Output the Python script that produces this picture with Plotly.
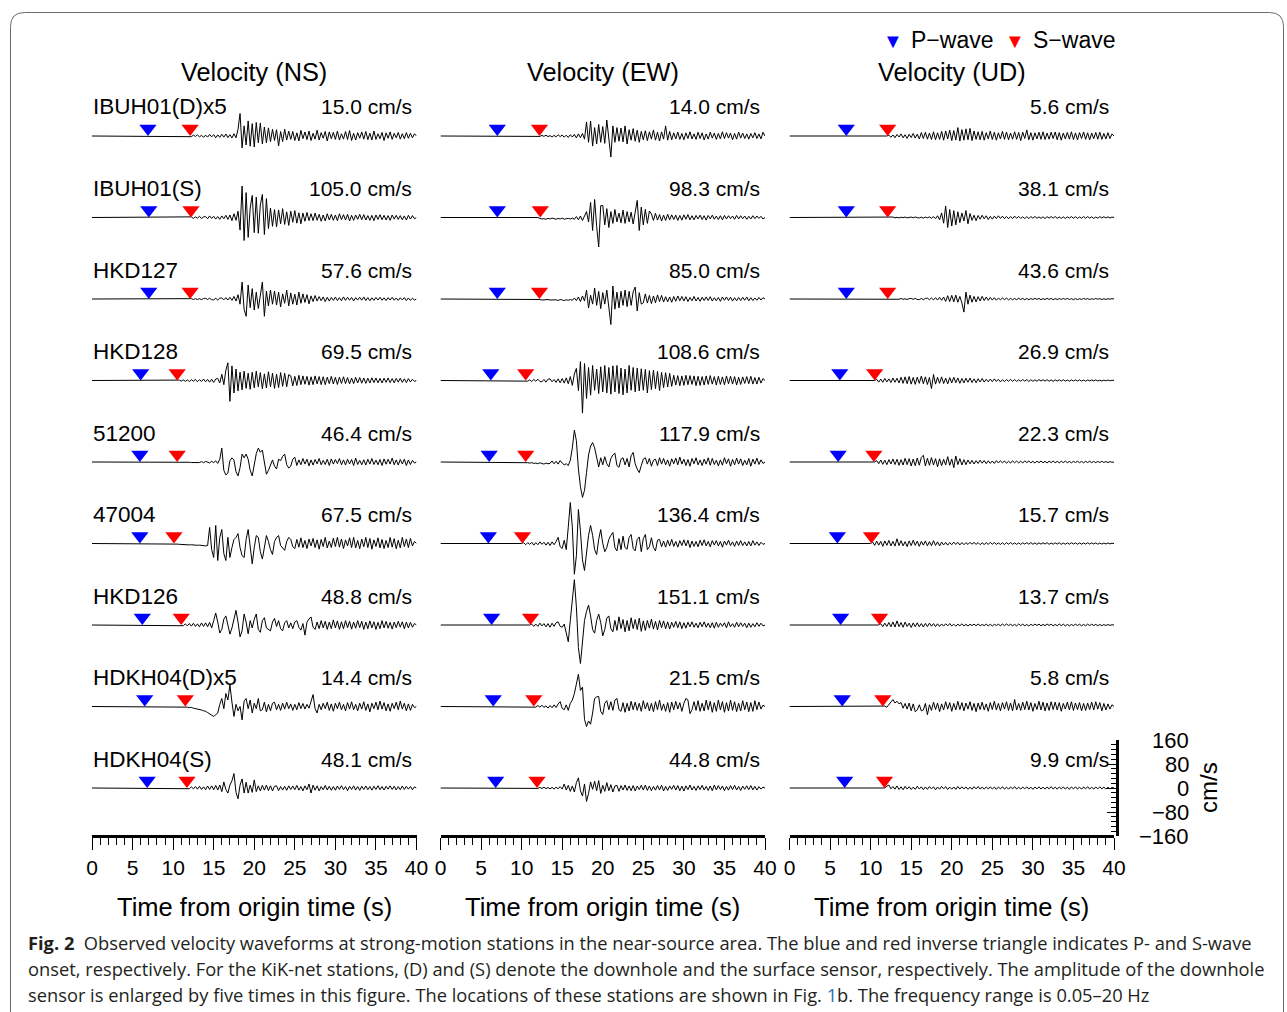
import plotly.graph_objects as go

W, H = 1287, 1012

# ---------------- data ----------------
stations = ["IBUH01(D)x5", "IBUH01(S)", "HKD127", "HKD128", "51200",
            "47004", "HKD126", "HDKH04(D)x5", "HDKH04(S)"]
gains = [5, 1, 1, 1, 1, 1, 1, 5, 1]
components = ["NS", "EW", "UD"]

peak_ns = [15.0, 105.0, 57.6, 69.5, 46.4, 67.5, 48.8, 14.4, 48.1]
peak_ew = [14.0, 98.3, 85.0, 108.6, 117.9, 136.4, 151.1, 21.5, 44.8]
peak_ud = [5.6, 38.1, 43.6, 26.9, 22.3, 15.7, 13.7, 5.8, 9.9]

p_ns = [6.9, 7.0, 7.0, 6.0, 5.9, 5.9, 6.2, 6.5, 6.8]
s_ns = [12.1, 12.2, 12.1, 10.5, 10.5, 10.1, 11.0, 11.5, 11.7]
p_ew = [7.0, 7.0, 7.0, 6.2, 6.0, 5.9, 6.3, 6.5, 6.8]
s_ew = [12.2, 12.3, 12.2, 10.5, 10.5, 10.1, 11.1, 11.5, 11.9]
p_ud = [7.0, 7.0, 7.0, 6.2, 6.0, 5.9, 6.3, 6.5, 6.8]
s_ud = [12.1, 12.1, 12.1, 10.5, 10.4, 10.1, 11.1, 11.5, 11.7]

# start time of the digitised part of each record (flat before it), s
onset = [12.0, 12.0, 12.0, 10.5, 10.5, 10.0, 11.0, 11.5, 11.75]
DT = 0.25  # sample step of the digitised waveforms, s

# waveforms in % of the peak amplitude
IBUH01D_NS = [0,-3,4,-2, 5,-4,3,-6, 4,-5,7,-4, 6,-8,5,-6, 8,-5,9,-7, 6,-9,10,-8, 30,100,-53,45, -40,67,-45,55,
              -49,60,-30,58, -35,40,-30,36, -25,30,-20,28, -44,20,-25,30, -18,22,-15,20, -20,14,-22,25, -12,18,-16,22,
              -20,12,-14,26, -18,15,-10,20, -22,18,-12,16, -15,22,-18,10, -14,20,-16,24, -20,12,-18,15, -10,18,-14,20,
              -16,12,-18,22, -15,10,-12,16, -20,14,-10,18, -15,12,-8,16, -14,10,-12,15, -10,12,-8,10, 0]
IBUH01D_EW = [0,-2,3,-2, 4,-3,2,-5, 3,-4,6,-3, 5,-6,4,-7, 6,-5,8,-9, 10,-8,12,-15, 67,-30,71,-48, 40,-38,55,-30,
              45,-35,76,-20, -100,48,-30,40, -25,38,-28,48, -38,30,-20,35, -25,28,-30,22, -18,25,-22,20, -15,29,-20,18,
              -24,20,-15,48, -20,22,-18,15, -14,19,-16,12, -18,15,-12,20, -14,10,-16,18, -12,15,-19,10, -15,18,-10,14,
              -16,12,-14,20, -12,16,-10,14, -18,12,-15,19, -10,14,-12,10, -15,12,-9,16, -12,10,-14,18, 0]
IBUH01D_UD = [0,10,-15,12, -20,18,-12,25, -22,15,-28,20, -18,30,-25,22, -35,40,-30,45, -38,35,-42,50, -45,38,-40,55,
              -50,60,-35,70, -55,65,-48,100, -60,75,-50,85, -45,90,-55,60, -40,50,-45,55, -50,40,-35,60, -42,45,-50,38,
              -35,55,-40,48, -45,35,-38,50, -40,42,-55,45, -30,72,-45,40, -50,38,-35,45, -40,50,-42,35, -38,45,-30,48,
              -45,40,-50,35, -35,42,-38,50, -42,36,-45,40, -30,48,-40,38, -45,35,-32,42, -38,45,-40,30, -35,40,-30,25, 0]

IBUH01S_NS = [0,2,-3,2, -2,4,-3,2, 3,-4,5,-3, 4,-5,3,-6, 5,-4,7,-6, 8,-10,12,-9, 20,-40,100,-73, 79,-63,30,70,
              -48,65,-50,40, 73,-54,60,-35, 30,-28,25,-30, 24,-20,28,-22, 18,-25,20,-15, 22,-18,15,-20, 14,-12,16,-10,
              12,-10,14,-9, 10,-12,8,-11, 12,-8,10,-9, 8,-10,12,-7, 9,-8,10,-11, 7,-9,8,-6, 10,-7,9,-8, 6,-9,7,-10,
              8,-6,9,-7, 7,-8,6,-9, 8,-5,7,-6, 6,-7,5,-8, 7,-5,6,-4, 0]
IBUH01S_EW = [0,-3,-5,-4, -6,-3,-5,-2, -4,-6,-3,-5, -2,-6,-4,-3, -5,-2,-6,3, -8,5,-10,8, 20,-15,51,-44, 61,-30,-100,40,
              41,-25,30,-34, 20,-20,27,-15, 15,-18,25,-20, 20,-15,18,-22, 25,58,-44,35, -25,28,-20,22, 12,-10,14,-9,
              10,-12,8,-10, 11,-8,9,-7, 8,-10,7,-9, 9,-6,10,-8, 6,-8,7,-5, 8,-7,6,-9, 7,-5,8,-6, 5,-7,6,-8,
              7,-5,6,-4, 5,-6,7,-5, 6,-4,5,-6, 4,-5,6,-4, 5,-3,4,-5, 0]
IBUH01S_UD = [0,3,-2,4, -3,2,-4,3, -2,4,-3,2, 4,-3,5,-2, -4,3,-5,4, -3,5,-6,8, -10,15,-20,40, -50,100,-88,70,
              -75,60,-65,50, -45,40,-30,61, -55,35,-25,20, -28,18,-15,20, -12,15,-18,10, -14,12,-10,15, -8,12,-10,9,
              -11,8,-9,12, -7,10,-8,6, -9,7,-10,8, -6,9,-7,5, -8,6,-9,7, -5,8,-6,9, -7,5,-8,6, -9,6,-5,8,
              -6,7,-8,5, -7,9,-6,8, -5,6,-7,4, -6,8,-5,7, -4,6,-5,4, 0]

HKD127_NS = [0,2,-3,2, -3,2,-4,3, 4,-3,5,-4, -5,4,-6,5, 6,-5,8,-6, 10,-8,15,-12, 25,-30,98,-60, -100,81,-50,60,
             -64,40,-55,35, 98,-100,45,-40, 52,-30,46,-35, 40,-46,30,-25, 52,-40,35,-30, 28,-35,40,-25, 30,-20,25,-28,
             18,-15,20,-12, 14,-10,12,-15, 10,-12,9,-8, 11,-9,8,-10, 12,-8,10,-7, 9,-11,8,-6, 10,-7,12,-9, 8,-10,7,-8,
             9,-6,10,-7, 7,-9,8,-6, 10,-7,6,-8, 7,-5,8,-9, 6,-8,5,-6, 0]
HKD127_EW = [0,-2,-4,-3, -5,-2,-4,-3, -5,-3,-6,-2, -4,-6,-3,-5, -2,-5,4,-6, 8,-10,12,-8, 35,-35,15,-20, 43,-25,30,-38,
             25,-20,35,-30, -100,51,-40,27, -35,30,-25,35, -30,30,-25,28, 47,-47,25,-20, -15,20,-16,14, -18,12,-15,16,
             -10,14,-12,9, -11,8,-13,10, -9,12,-7,10, -8,9,-10,6, -7,10,-8,6, -9,7,-6,8, -6,9,-8,5, -7,6,-9,8,
             -5,8,-6,7, -8,5,-7,6, -6,7,-5,8, -7,5,-6,4, -5,6,-4,5, 0]
HKD127_UD = [0,1,-2,2, -2,3,-2,4, -3,2,-4,3, 4,-3,5,-4, -5,4,-6,5, 6,-5,8,-7, 10,-8,12,-10, 15,-18,25,-20,
             28,-22,30,-25, 20,-30,-100,53, -40,30,-25,20, -22,18,-15,20, -12,15,-10,12, -8,10,-9,7, -6,8,-5,7,
             -7,5,-6,4, -5,6,-4,5, -6,4,-5,3, -4,5,-3,4, -5,3,-4,5, -3,4,-5,3, -4,3,-3,4, -3,5,-4,3,
             -5,3,-4,2, -3,4,-2,3, -4,2,-3,4, -2,3,-4,2, -3,2,-2,3, 0]

HKD128_NS = [0,2,-3,3, -4,3,-5,4, -3,5,-6,4, -5,7,-6,5, -8,6,-9,7, 10,-12,30,-20, 50,85,-100,70, -60,55,-50,40,
             -45,45,-38,35, -42,40,-35,45, -30,38,-40,32, -36,42,-30,35, -38,30,-34,38, -28,35,-30,28, 22,-26,20,-24,
             25,-20,22,-18, 20,-22,18,-20, 22,-16,19,-20, 18,-20,16,-15, 20,-17,15,-19, 16,-14,18,-15, 14,-16,12,-15,
             15,-12,14,-13, 12,-14,11,-12, 13,-10,12,-11, 10,-12,11,-9, 12,-10,9,-11, 10,-8,11,-9, 8,-10,9,-7, 6,-4,0]
HKD128_EW = [0,-2,2,-3, 3,-2,4,-3, -4,3,-5,4, 5,-4,3,-6, 5,-7,6,-8, 8,-10,12,-15, 20,37,-31,58, -100,52,-55,40,
             -45,46,-30,35, -40,42,-35,46, -38,40,-42,45, -35,46,-40,38, -44,35,-38,46, -30,40,-35,38, -32,36,-30,34,
             -38,30,-28,32, -25,28,-31,25, -22,24,-20,22, -18,16,-14,15, -16,14,-15,16, -13,15,-12,14, -16,13,-15,12,
             -14,14,-12,15, -11,12,-14,13, -12,11,-13,14, -10,13,-11,12, -14,10,-12,11, -9,12,-10,13, -11,9,-11,10, -8,6,0]
HKD128_UD = [0,15,-20,18, -22,25,-18,20, -25,30,-22,28, -30,40,-35,45, -40,50,-45,38, -48,42,-35,55, -40,45,-50,38,
             -100,74,-45,40, -35,45,-38,30, -42,35,-30,40, -28,32,-35,25, -30,28,-22,30, -25,20,-28,22, -18,24,-20,15,
             -16,18,-14,20, -12,15,-18,10, -14,12,-10,15, -11,13,-12,9, -10,12,-8,11, -12,9,-10,8, -9,11,-7,10,
             -8,10,-9,7, -10,8,-7,9, -7,9,-8,6, -9,7,-6,8, -6,8,-7,5, -8,6,-5,7, -5,7,-6,4, -6,5,-4,6, -4,3,0]

S51200_NS = [0,-2,2,-3, 2,-3,-2,-4, -3,-5,-2,-4, 3,-5,4,-3, -6,5,-4,8, -10,20,100,-60, -93,-80,10,30, 15,-70,-100,-40,
             57,30,57,20, -60,-100,-30,60, 100,70,85,-20, -88,-60,-20,15, -30,-50,20,10, 40,57,-20,-43, -30,20,35,-25,
             15,-20,25,-15, 20,-28,15,-22, 18,-14,25,-20, 12,-18,20,-25, 22,-15,18,-12, 25,-20,15,-22, 20,-14,18,-25,
             28,-18,12,-20, 16,-22,20,-15, 25,-18,14,-20, 18,-25,22,-16, 20,-15,28,-20, 15,-22,18,-14, 20,-25,15,-18, 12,-8,0]
S51200_EW = [0,-2,-3,-2, -4,-3,-5,-2, -4,-6,-3,-5, -4,3,-5,2, -6,4,-3,-8, -5,-10,5,40, 90,60,-20,-70, -100,-80,-30,20,
             45,55,40,10, -14,12,-8,15, -5,-14,10,20, 25,-10,-15,8, 12,-8,10,-14, 18,27,-5,-20, -30,-10,8,12,
             -6,10,-12,5, 8,-10,12,-6, 10,-8,6,-12, 9,-5,11,-8, 14,-6,8,-10, 7,-12,10,-5, 12,-8,6,-10,
             8,-6,12,-9, 10,-7,5,-11, 6,-9,12,-5, 9,-12,7,-8, 11,-6,9,-10, 5,-8,10,-12, 8,-6,11,-7, 6,-4,0]
S51200_UD = [0,20,-25,30, -35,28,-40,35, -30,45,-38,40, -50,35,-45,55, -40,50,-60,45, -55,60,-48,70, 100,-60,55,-50,
             65,-45,50,-70, 48,-55,40,-45, 80,-50,45,-85, 90,-40,50,-45, 35,-40,30,-28, 25,-30,20,-22, 28,-18,22,-25,
             18,-20,15,-22, 20,-15,18,-12, 15,-18,12,-16, 18,-12,15,-14, 12,-15,18,-10, 14,-12,10,-15, 12,-10,14,-12,
             10,-14,12,-9, 15,-11,9,-13, 11,-9,13,-10, 9,-12,10,-8, 12,-10,8,-11, 10,-8,12,-9, 8,-10,9,-7, 10,-8,7,-9, 6,-4,0]

S47004_NS = [0,-2,-3,-4, -5,-4,-6,-5, -7,-6,-8,-7, -9,-8,-10,-9, -12,-10,79,-30, -69,89,-84,30, 69,-50,-84,30,
             -69,-20,20,30, 49,-20,-60,-69, 20,69,-30,-100, -20,39,30,-40, -77,-20,39,10, -30,-54,10,30, 39,-10,-25,-34,
             10,30,20,-15, -25,20,-18,28, -20,15,-25,22, -12,25,-20,18, -28,20,-15,30, -22,12,-20,26, -15,30,-18,22,
             -25,18,-12,28, -20,30,-22,15, -26,22,-16,30, -20,25,-28,18, -15,28,-22,20, -25,15,-20,30, -18,24,-26,16,
             -22,30,-15,22, -20,25,-12,10, 0]
S47004_EW = [0,2,-3,2, -2,3,-4,2, -3,4,-2,3, -4,3,-5,4, -3,5,15,-8, -12,8,-15,40, 100,40,-75,-30, 83,30,-40,-66,
             -20,20,44,20, -15,-27,10,34, 0,-20,-10,10, 20,27,-10,-18, 12,-15,18,-10, -14,15,22,-12, -18,10,16,-20,
             12,22,-15,-8, 14,-10,-18,8, 10,-8,6,-9, 8,-6,10,-7, 5,-9,7,-5, 9,-6,8,-10, 6,-7,5,-8, 8,-5,9,-6,
             5,-8,7,-4, 7,-6,5,-9, 6,-4,8,-5, 4,-7,6,-5, 7,-5,4,-6, 5,-6,7,-4, 4,-5,3,-2, 0]
S47004_UD = [0,30,-40,50, -35,45,-60,55, -40,65,-50,45, -55,100,-45,60, -50,40,-65,55, -45,70,-40,50, -60,45,-35,55,
             -50,40,-45,60, -40,35,-50,30, -30,25,-35,20, -25,30,-20,25, -30,20,-25,18, -20,25,-15,22, -18,20,-25,15,
             -22,18,-20,25, -15,20,-18,12, -20,15,-22,18, -14,20,-16,12, -18,14,-20,16, -12,18,-15,20, -16,12,-18,14,
             -14,16,-12,18, -18,10,-15,14, -12,16,-18,10, -15,12,-14,16, -10,14,-16,12, -14,10,-12,15, -12,14,-10,12,
             -15,10,-12,8, -10,12,-8,6, 0]

HKD126_NS = [0,-5,8,-6, 10,-8,12,-10, 8,-12,14,-10, 15,-12,18,-20, 30,82,20,-55, -30,40,62,10, -62,-20,40,100,
             20,-81,-40,75, 20,-60,30,-20, 40,75,-30,-50, 30,50,-20,-30, -40,20,45,-10, 30,-25,-40,15, 30,-20,15,-25,
             20,30,-15,-35, 10,-69,20,41, 55,-15,-30,20, -25,30,-20,25, -30,20,-25,35, -20,28,-30,22, -25,30,-18,25,
             -28,20,-22,30, -18,25,-30,20, -25,28,-20,22, -30,18,-25,30, -20,25,-22,18, -28,20,-18,25, -15,22,-25,20,
             -20,18,-15,10, 0]
HKD126_EW = [0,2,-3,2, -3,4,-2,3, -4,3,-5,4, -3,5,7,-3, -5,2,-20,-37, 10,60,100,40, -50,-85,-40,10, 30,44,20,-10,
             -18,10,24,5, -24,-10,15,20, -8,-15,10,-12, 18,-8,12,-15, 10,-13,16,-8, 12,-10,15,-14, 9,-12,10,-7,
             13,-9,8,-11, 10,-6,9,-8, 7,-9,6,-5, 8,-6,7,-8, 5,-7,6,-4, 7,-5,4,-6, 6,-4,7,-5, 4,-6,5,-7,
             6,-5,4,-3, 5,-6,7,-4, 3,-5,6,-4, 5,-3,4,-6, 4,-5,3,-4, 5,-3,4,-2, 0]
HKD126_UD = [0,30,-40,45, -35,60,-45,75, -50,100,-40,60, -55,70,-35,45, -60,50,-40,55, -45,35,-50,40, -38,45,-30,35,
             -40,30,-35,25, -28,30,-20,35, -25,20,-30,22, -18,28,-22,15, -25,18,-15,22, -20,25,-18,12, -15,20,-22,18,
             -25,15,-12,20, -18,22,-15,25, -12,18,-20,15, -22,25,-15,20, -18,12,-25,18, -15,22,-12,20, -20,15,-18,25,
             -12,20,-22,15, -18,25,-15,20, -22,15,-20,12, -15,20,-12,18, -20,12,-18,22, -15,18,-12,15, -18,12,-15,10,
             -12,10,-8,5, 0]

HDKH04D_NS = [0,-3,-5,-4, -8,-10,-9,-14, -16,-20,-22,-28, -35,-40,-46,-38, -30,10,37,-10, 60,30,100,20,
              -46,10,-20,0, -62,25,37,-10, 30,-30,15,-10, 37,-20,-15,20, -25,10,-20,15, 20,-15,10,-18, 15,-12,20,-10,
              12,-18,10,-15, 18,-10,14,-12, 10,-8,30,55, -10,-30,10,-15, 15,-10,20,-18, 12,-22,15,-10, 20,-15,10,-20,
              18,-12,22,-15, 10,-20,15,-12, 22,-18,12,-25, 15,-10,20,-15, 25,-12,18,-20, 12,-22,15,-10, 20,-15,25,-12,
              15,-20,12,-18, 10,-5,0]
HDKH04D_EW = [0,-2,3,-2, 4,-3,2,-5, 3,-4,5,-3, 8,15,-6,-10, 5,-12,10,20, 40,70,100,50, 60,-40,-62,-45,
              -55,-20,25,30, 31,-15,-25,10, 18,-10,15,-12, 20,25,-10,-15, 12,-18,10,-14, 16,-10,14,-12, 10,-15,18,-8,
              12,-14,10,-16, 15,-10,20,-12, 8,-15,12,-18, 14,-10,16,-8, 12,-15,10,25, 20,-22,-10,15, -12,18,-15,10,
              -14,20,-10,16, -18,12,-15,20, -10,15,-18,12, -14,20,-12,15, -16,10,-14,18, -10,14,-16,12, -15,18,-10,14,
              -8,4,0]
HDKH04D_UD = [0,5,-8,20, 50,80,40,60, 30,45,-20,35, -30,40,-50,30, -60,-40,20,-50, -40,35,-95,20, -45,50,-35,40,
              -60,30,-40,55, -30,45,-55,35, -40,60,-35,45, -50,40,-30,55, -45,35,-60,40, -35,50,-40,30, -55,45,-35,60,
              -40,35,-50,45, -30,55,-45,40, -50,80,-40,35, -45,50,-35,60, -40,45,-55,35, -35,60,-40,50, -50,40,-45,55,
              -35,50,-40,45, -55,35,-30,50, -40,55,-45,40, -35,45,-50,35, -45,40,-35,50, -40,55,-30,45, -50,35,-40,30,
              -30,20,0]

HDKH04S_NS = [0,-5,8,-6, 10,-8,12,-10, 8,-12,14,-10, 15,-12,18,-14, 20,-25,42,-10, -35,20,50,100, -30,-75,20,63,
              -35,40,-35,20, -30,56,-25,15, -20,18,-15,20, -18,15,-20,12, 15,-18,10,-14, 12,-16,15,-10, 14,-12,18,-15,
              10,-20,15,-12, 28,-35,20,-15, 15,-20,10,-12, 18,-14,12,-16, 10,-15,14,-10, 16,-12,10,-18, 12,-10,15,-14,
              10,-16,12,-10, 14,-12,10,-15, 12,-10,16,-12, 10,-14,12,-8, 15,-10,12,-14, 10,-12,14,-10, 12,-8,10,-12,
              8,0]
HDKH04S_EW = [0,-3,5,-4, 6,-5,4,-7, 5,-8,6,-5, 10,-8,30,-15, 20,-25,15,-30, 40,75,-20,-60, 30,-100,-40,45,
              -10,50,-20,55, -40,20,-25,40, -20,25,-30,15, 20,-25,18,-15, 22,-18,15,-20, 18,-22,15,-12, 20,-15,22,-18,
              15,-20,12,-16, 18,-14,20,-22, 12,-18,15,-10, 20,-15,18,-20, 14,-22,16,-12, 22,-15,12,-18, 16,-12,20,-15,
              12,-18,15,-20, 22,-14,18,-12, 15,-20,12,-16, 18,-12,20,-15, 12,-18,14,-10, 16,-12,18,-14, 12,-15,10,-8,
              6,0]
HDKH04S_UD = [0,60,100,-30, 50,-40,70,-50, 40,-60,55,-35, 45,-50,30,-45, 60,-35,40,-55, 35,-45,50,-30, 40,-60,35,-40,
              55,-30,45,-50, 30,-40,35,-45, 50,-35,40,-30, 35,-45,30,-40, 45,-30,50,-35, 30,-40,35,-30, 40,-35,30,-45,
              35,-30,45,-35, 30,-40,35,-30, 45,-35,30,-40, 35,-30,40,-35, 30,-45,35,-30, 40,-35,30,-40, 35,-30,45,-35,
              30,-40,35,-30, 40,-35,30,-45, 35,-30,40,-35, 30,-40,35,-30, 45,-35,30,-40, 35,-30,40,-30, 30,-35,25,-30,
              20,0]

waves_ns = [IBUH01D_NS, IBUH01S_NS, HKD127_NS, HKD128_NS, S51200_NS, S47004_NS, HKD126_NS, HDKH04D_NS, HDKH04S_NS]
waves_ew = [IBUH01D_EW, IBUH01S_EW, HKD127_EW, HKD128_EW, S51200_EW, S47004_EW, HKD126_EW, HDKH04D_EW, HDKH04S_EW]
waves_ud = [IBUH01D_UD, IBUH01S_UD, HKD127_UD, HKD128_UD, S51200_UD, S47004_UD, HKD126_UD, HDKH04D_UD, HDKH04S_UD]

scale_ticks = [160, 80, 0, -80, -160]
x_ticks = [0, 5, 10, 15, 20, 25, 30, 35, 40]

# ---------------- layout geometry (pixels) ----------------
PX = 0.3            # pixels per cm/s
ROW0 = 136.0        # baseline of first row
PITCH = 81.5        # row spacing
AXIS_Y = 836.0      # time axis line
COL_X0 = [92.0, 440.5, 789.5]
COL_W = 324.5
FONT = "Liberation Sans, Arial, Helvetica, sans-serif"


def xp(px):
    return px / W


def yp(py):
    return 1 - py / H


def row_offset(r):
    return -r * PITCH / PX


cols = [
    ("x", waves_ns, peak_ns, p_ns, s_ns),
    ("x2", waves_ew, peak_ew, p_ew, s_ew),
    ("x3", waves_ud, peak_ud, p_ud, s_ud),
]

fig = go.Figure()

for ax, waves, peaks, pt, st in cols:
    for r, w in enumerate(waves):
        off = row_offset(r)
        amp = peaks[r] * gains[r]
        xs = [0.0] + [onset[r] + DT * i for i in range(len(w))]
        ys = [off] + [off + v / 100.0 * amp for v in w]
        fig.add_trace(go.Scatter(x=xs, y=ys, xaxis=ax, yaxis="y", mode="lines",
                                 line=dict(color="black", width=1),
                                 showlegend=False, hoverinfo="skip"))
    tri_y = [row_offset(r) + 7.5 / PX for r in range(len(stations))]
    fig.add_trace(go.Scatter(x=pt, y=tri_y, xaxis=ax, yaxis="y", mode="markers",
                             marker=dict(symbol="triangle-down", size=15, color="#0000ff",
                                         line=dict(width=0)),
                             name="P−wave", showlegend=False, hoverinfo="skip"))
    fig.add_trace(go.Scatter(x=st, y=tri_y, xaxis=ax, yaxis="y", mode="markers",
                             marker=dict(symbol="triangle-down", size=15, color="#ff0000",
                                         line=dict(width=0)),
                             name="S−wave", showlegend=False, hoverinfo="skip"))

# anchor trace for the amplitude scale bar axis
fig.add_trace(go.Scatter(x=[20], y=[0], xaxis="x3", yaxis="y2", mode="markers",
                         marker=dict(opacity=0), showlegend=False, hoverinfo="skip"))

xaxis_common = dict(
    range=[0, 40], anchor="free", position=yp(AXIS_Y), side="bottom",
    showline=True, linecolor="black", linewidth=3, mirror=False,
    showgrid=False, zeroline=False, automargin=False,
    tickmode="array", tickvals=x_ticks, ticktext=[str(t) for t in x_ticks],
    ticks="outside", ticklen=12, tickwidth=1.2, tickcolor="black",
    minor=dict(dtick=1, ticks="outside", ticklen=7, tickwidth=1, tickcolor="black", showgrid=False),
    tickfont=dict(family=FONT, size=21, color="black"),
    fixedrange=True,
)

layout = dict(
    width=W, height=H, autosize=False,
    margin=dict(l=0, r=0, t=0, b=0, pad=0, autoexpand=False),
    paper_bgcolor="white", plot_bgcolor="rgba(0,0,0,0)",
    showlegend=False,
    yaxis=dict(domain=[0, 1], range=[(ROW0 - H) / PX, ROW0 / PX], visible=False,
               fixedrange=True, automargin=False),
    yaxis2=dict(domain=[yp(AXIS_Y), yp(AXIS_Y - 320 * PX)], range=[-160, 160],
                anchor="free", position=xp(1117), side="right", automargin=False,
                showline=True, linecolor="black", linewidth=2.5,
                showgrid=False, zeroline=False,
                tickmode="array", tickvals=scale_ticks, showticklabels=False,
                ticks="inside", ticklen=9, tickwidth=1.2, tickcolor="black",
                minor=dict(dtick=16, ticks="inside", ticklen=5, tickwidth=1, tickcolor="black", showgrid=False),
                fixedrange=True),
)
for i, ax in enumerate(["xaxis", "xaxis2", "xaxis3"]):
    d = dict(xaxis_common)
    d["domain"] = [xp(COL_X0[i]), xp(COL_X0[i] + COL_W)]
    layout[ax] = d
fig.update_layout(**layout)

ann = []


def add_text(text, px, py, size, xanchor="center", yanchor="middle", family=FONT,
             color="black", angle=0):
    ann.append(dict(text=text, x=xp(px), y=yp(py), xref="paper", yref="paper",
                    xanchor=xanchor, yanchor=yanchor, showarrow=False, textangle=angle,
                    font=dict(family=family, size=size, color=color)))


# column titles and time-axis titles
for i, comp in enumerate(components):
    add_text(f"Velocity ({comp})", COL_X0[i] + COL_W / 2, 72, 25.3)
    add_text("Time from origin time (s)", COL_X0[i] + COL_W / 2, 907, 25.5)

# station names and peak amplitudes
peak_lists = [peak_ns, peak_ew, peak_ud]
for r, name in enumerate(stations):
    ly = ROW0 + r * PITCH - 29
    add_text(name, COL_X0[0] - 1, ly, 22.5, xanchor="left")
    for c in range(3):
        add_text(f"{peak_lists[c][r]:.1f} cm/s", COL_X0[c] + COL_W - 3, ly, 21, xanchor="right")

# legend
add_text("▼", 893, 41, 20, color="#0000ff")
add_text("P−wave", 909, 40, 23, xanchor="left")
add_text("▼", 1015, 41, 20, color="#ff0000")
add_text("S−wave", 1031, 40, 23, xanchor="left")

# amplitude scale labels
for v in scale_ticks:
    lab = str(v).replace("-", "−")
    ann.append(dict(text=lab, x=xp(1191), y=v, xref="paper", yref="y2", xanchor="right",
                    yanchor="middle", showarrow=False,
                    font=dict(family=FONT, size=22, color="black")))
add_text("cm/s", 1208, 788, 24, angle=-90)

# caption
CAP = "Open Sans, Noto Sans, DejaVu Sans, sans-serif"
CAPC = "#231f20"
cap1 = ("<b>Fig. 2</b>\u00a0 Observed velocity waveforms at strong-motion stations in the near-source area. "
        "The blue and red inverse triangle indicates P- and S-wave")
cap2 = ("onset, respectively. For the KiK-net stations, (D) and (S) denote the downhole and the surface "
        "sensor, respectively. The amplitude of the downhole")
cap3 = ("sensor is enlarged by five times in this figure. The locations of these stations are shown in "
        "Fig. <span style='color:#2f6fb5'>1</span>b. The frequency range is 0.05–20 Hz")
for txt, py in [(cap1, 942), (cap2, 968), (cap3, 994)]:
    add_text(txt, 26, py, 18.3, xanchor="left", family=CAP, color=CAPC)

fig.update_layout(annotations=ann)

# rounded frame around the figure
x0, x1 = xp(10.5), xp(1283.5)
yt, yb = yp(12.5), yp(H + 20)
rx, ry = 14 / W, 14 / H
frame = (f"M {x0},{yb} L {x0},{yt - ry} Q {x0},{yt} {x0 + rx},{yt} "
         f"L {x1 - rx},{yt} Q {x1},{yt} {x1},{yt - ry} L {x1},{yb}")
fig.add_shape(type="path", path=frame, xref="paper", yref="paper",
              line=dict(color="#6b6b6b", width=1))

post = ("document.documentElement.style.margin='0';document.body.style.margin='0';"
        "document.body.style.padding='0';document.body.style.overflow='hidden';")
fig.write_html("out.html", post_script=post, config={"responsive": False})
